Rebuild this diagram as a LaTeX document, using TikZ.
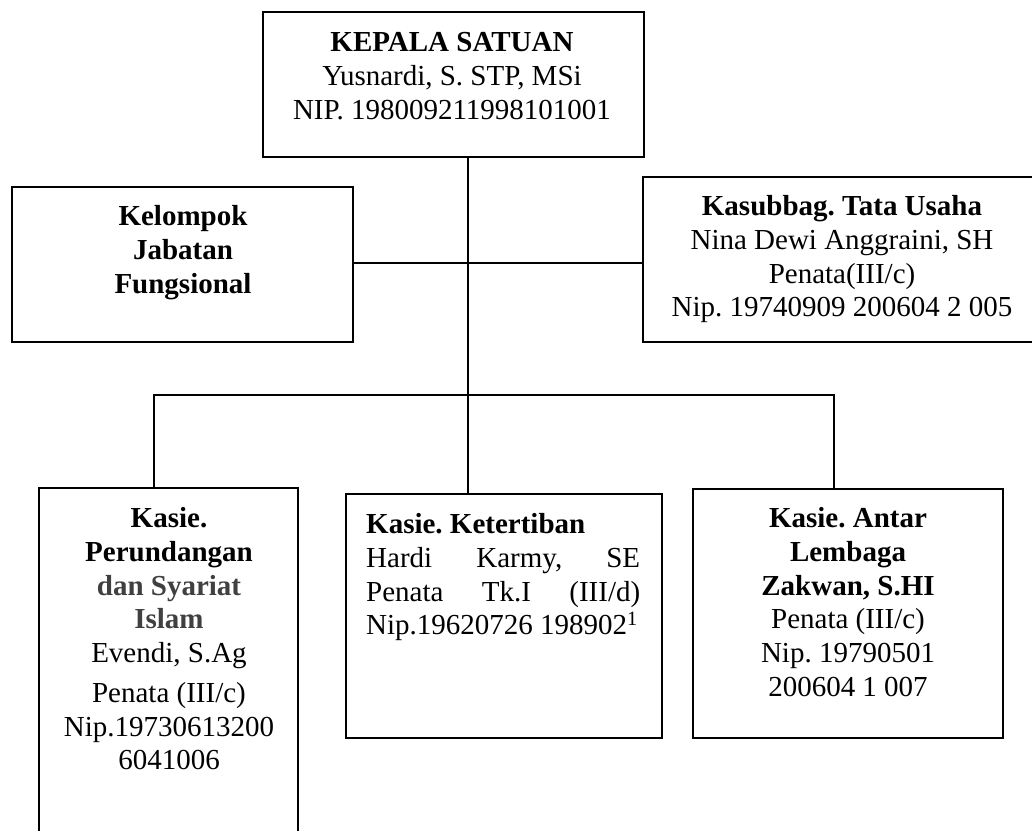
\documentclass[tikz,border=0pt]{standalone}
\usepackage{fontspec}
\setmainfont{Liberation Serif}
\definecolor{darkgraytext}{HTML}{404040}
\frenchspacing
\begin{document}
\begin{tikzpicture}[x=1pt,y=-1pt,
  box/.style={draw=black,line width=1.8pt,rectangle,inner sep=0pt},
  txt/.style={inner sep=0pt,anchor=north,align=center,font=\fontsize{29}{33.7}\selectfont\frenchspacing},
  txtl/.style={inner sep=0pt,anchor=north west,align=left,font=\fontsize{29}{33.7}\selectfont\frenchspacing},
  conn/.style={line width=1.8pt}]
\useasboundingbox (0,0) rectangle (1032,830);
\clip (0,0) rectangle (1032,830);
\fill[white] (0,0) rectangle (1032,830);
% boxes
\node[box,minimum width=381pt,minimum height=145pt] (top) at (453.5,84.5) {};
\node[box,minimum width=341pt,minimum height=155pt] (kel) at (182.5,264.5) {};
\node[box,minimum width=402pt,minimum height=165pt] (tu) at (844,259.5) {};
\node[box,minimum width=259pt,minimum height=372pt] (k1) at (168.5,674) {};
\node[box,minimum width=316pt,minimum height=244pt] (k2) at (504,616) {};
\node[box,minimum width=310pt,minimum height=249pt] (k3) at (848,613.5) {};
% texts
\node[txt] (ttop) at (452,32.5) {\textbf{KEPALA SATUAN}\\Yusnardi, S. STP, MSi\\NIP. 198009211998101001};
\node[txt] (tkel) at (183,205.5) {\textbf{Kelompok}\\\textbf{Jabatan}\\\textbf{Fungsional}};
\node[txt] (ttu) at (842,195.5) {\textbf{Kasubbag. Tata Usaha}\\Nina Dewi Anggraini, SH\\Penata(III/c)\\Nip. 19740909 200604 2 005};
\node[txt] (tk1) at (169,507.5) {\textbf{Kasie.}\\\textbf{Perundangan}\\\textcolor{darkgraytext}{\textbf{dan Syariat}}\\\textcolor{darkgraytext}{\textbf{Islam}}\\Evendi, S.Ag\\[6pt]Penata (III/c)\\Nip.19730613200\\6041006};
\node[txtl] (tk2) at (366,513.5) {\textbf{Kasie. Ketertiban}\\\makebox[274pt][s]{Hardi Karmy, SE}\\\makebox[274pt][s]{Penata Tk.I (III/d)}\\Nip.19620726 198902\textsuperscript{1}};
\node[txt] (tk3) at (848,507.5) {\textbf{Kasie. Antar}\\\textbf{Lembaga}\\\textbf{Zakwan, S.HI}\\Penata (III/c)\\Nip. 19790501\\200604 1 007};
% connectors
\coordinate (j1) at (468,263);
\coordinate (bus) at (468,395);
\coordinate (bl) at (154,395);
\coordinate (br) at (834,395);
\draw[conn] (top.south -| j1) -- (bus);
\draw[conn] (kel.east |- j1) -- (tu.west |- j1);
\draw[conn] (k1.north -| bl) -- (bl) -- (br) -- (k3.north -| br);
\draw[conn] (bus) -- (k2.north -| bus);
\end{tikzpicture}
\end{document}
